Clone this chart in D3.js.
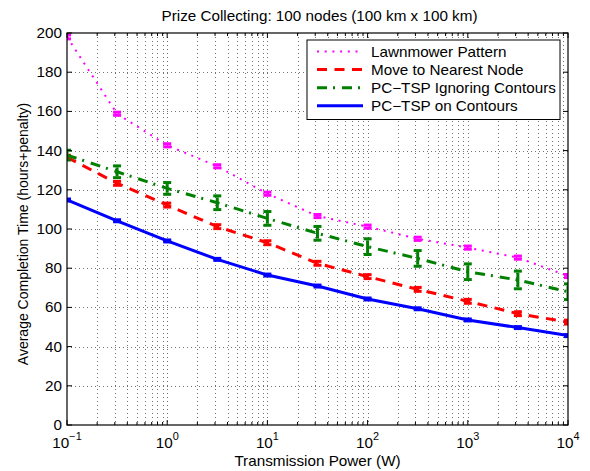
<!DOCTYPE html>
<html>
<head>
<meta charset="utf-8">
<script src="https://cdn.jsdelivr.net/npm/d3@7"></script>
<style>
  body { margin: 0; background: #fff; }
  text { font-family: "Liberation Sans", Arial, sans-serif; }
</style>
</head>
<body>
<div id="chart"></div>
<script>
// x positions: transmission power in W (half-decade steps)
const power = [0.1, 0.316, 1, 3.16, 10, 31.6, 100, 316, 1000, 3160, 10000];

// series values (hours+penalty) and error half-widths
const lawnmower     = [198, 158.8, 142.7, 132, 118, 106.6, 101.2, 95, 90.5, 85.4, 76];
const lawnmowerErr  = [1, 0.8, 0.8, 0.8, 0.8, 0.8, 0.8, 0.8, 0.8, 0.8, 0.8];
const nearest       = [136.6, 123.3, 112.2, 101.2, 93, 82.5, 75.7, 69.2, 63.1, 56.8, 52.5];
const nearestErr    = [1, 1, 1, 1, 1, 1, 1, 1, 1, 1, 1];
const ignoring      = [137.7, 129.2, 120.7, 113.4, 105.4, 97.8, 91, 85, 78.2, 74, 68];
const ignoringErr   = [2.5, 3, 3, 3.5, 3.5, 3.5, 4, 4, 4, 4.5, 4];
const contours      = [114.8, 104.2, 93.9, 84.5, 76.5, 70.9, 64.3, 59.3, 53.6, 49.7, 45.6];
const contoursErr   = [0.5, 0.5, 0.5, 0.5, 0.5, 0.5, 0.5, 0.5, 0.5, 0.5, 0.5];

const yTicks = [0, 20, 40, 60, 80, 100, 120, 140, 160, 180, 200];
const xTicks = [0.1, 1, 10, 100, 1000, 10000];
const xExp = ["\u22121", "0", "1", "2", "3", "4"];

const series = [
  {name: "Lawnmower Pattern", values: lawnmower, err: lawnmowerErr, color: "#ff00ff", dash: "2,5.7", width: 2},
  {name: "Move to Nearest Node", values: nearest, err: nearestErr, color: "#ff0000", dash: "10,7.5", width: 3},
  {name: "PC\u2212TSP Ignoring Contours", values: ignoring, err: ignoringErr, color: "#008000", dash: "10,6,2,7", width: 3},
  {name: "PC\u2212TSP on Contours", values: contours, err: contoursErr, color: "#0000ff", dash: null, width: 3}
];

const W = 590, H = 471;
const margin = {top: 33, right: 22, bottom: 46, left: 67},
width = W - margin.left - margin.right,
height = H - margin.top - margin.bottom;
const stretch = 1.09; // text in the picture is a bit wider than the font

const svg = d3.select("#chart")
.append("svg")
.attr("width", W)
.attr("height", H);

// text placed with a small horizontal stretch
function label(parent, tx, ty, str, size, anchor) {
  return parent.append("text")
  .attr("transform", `translate(${tx},${ty}) scale(${stretch},1)`)
  .attr("text-anchor", anchor || "start")
  .attr("font-size", size)
  .text(str);
}

const g = svg.append("g")
.attr("transform", `translate(${margin.left},${margin.top})`);

const x = d3.scaleLog()
.domain([0.1, 10000])
.range([0, width]);

const y = d3.scaleLinear()
.domain([0, 200])
.range([height, 0]);

// minor x ticks (2..9 per decade)
const minor = [];
for (let e = -1; e < 4; e++) {
  for (let k = 2; k <= 9; k++) minor.push(k * Math.pow(10, e));
}

// grid lines
const grid = g.append("g").attr("stroke", "#000").attr("stroke-width", 1)
.attr("stroke-dasharray", "1,3").attr("opacity", 0.55);
grid.selectAll(".xm").data(minor.concat(xTicks.slice(1, -1))).join("line")
.attr("x1", d => Math.round(x(d)) + 0.5).attr("x2", d => Math.round(x(d)) + 0.5)
.attr("y1", 0).attr("y2", height);
grid.selectAll(".yg").data(yTicks.slice(1, -1)).join("line")
.attr("y1", d => Math.round(y(d)) + 0.5).attr("y2", d => Math.round(y(d)) + 0.5)
.attr("x1", 0).attr("x2", width);

// clip for data
svg.append("clipPath").attr("id", "clip")
.append("rect").attr("width", width).attr("height", height);

const plot = g.append("g").attr("clip-path", "url(#clip)");

const line = d3.line()
.x((d, i) => x(power[i]))
.y(d => y(d));

series.forEach(s => {
  plot.append("path")
  .datum(s.values)
  .attr("fill", "none")
  .attr("stroke", s.color)
  .attr("stroke-width", s.width)
  .attr("stroke-dasharray", s.dash)
  .attr("d", line);

  // error bars
  const eb = plot.append("g").attr("stroke", s.color).attr("stroke-width", 3);
  s.values.forEach((v, i) => {
    const cx = x(power[i]);
    const y0 = y(v - s.err[i]), y1 = y(v + s.err[i]);
    eb.append("line").attr("x1", cx).attr("x2", cx).attr("y1", y0 - 1.5).attr("y2", y1 + 1.5);
    eb.append("line").attr("x1", cx - 4).attr("x2", cx + 4).attr("y1", y0).attr("y2", y0);
    eb.append("line").attr("x1", cx - 4).attr("x2", cx + 4).attr("y1", y1).attr("y2", y1);
  });
});

// axes box
g.append("rect")
.attr("x", 0).attr("y", 0)
.attr("width", width).attr("height", height)
.attr("fill", "none").attr("stroke", "#000").attr("stroke-width", 1.2);

// inside ticks on all sides
const ticks = g.append("g").attr("stroke", "#000").attr("stroke-width", 1);
xTicks.forEach(t => {
  const px = x(t);
  ticks.append("line").attr("x1", px).attr("x2", px).attr("y1", height).attr("y2", height - 5);
  ticks.append("line").attr("x1", px).attr("x2", px).attr("y1", 0).attr("y2", 5);
});
minor.forEach(t => {
  const px = x(t);
  ticks.append("line").attr("x1", px).attr("x2", px).attr("y1", height).attr("y2", height - 3);
  ticks.append("line").attr("x1", px).attr("x2", px).attr("y1", 0).attr("y2", 3);
});
yTicks.forEach(t => {
  const py = y(t);
  ticks.append("line").attr("x1", 0).attr("x2", 5).attr("y1", py).attr("y2", py);
  ticks.append("line").attr("x1", width).attr("x2", width - 5).attr("y1", py).attr("y2", py);
});

// y tick labels
yTicks.forEach(t => label(g, -5, y(t) + 5, t, 14, "end"));

// x tick labels with exponent
xTicks.forEach((t, i) => {
  const tx = label(g, x(t), height + 23, "", 14, "middle");
  tx.append("tspan").text("10");
  tx.append("tspan").attr("dy", -8).attr("font-size", 10).text(xExp[i]);
});

// axis labels and title
label(svg, margin.left + width / 2, H - 5, "Transmission Power (W)", 14, "middle");

svg.append("text")
.attr("transform", `translate(28,${margin.top + height / 2 + 5}) rotate(-90)`)
.attr("text-anchor", "middle").attr("font-size", 14)
.text("Average Completion Time (hours+penalty)");

label(svg, margin.left + width / 2 + 2, 21, "Prize Collecting: 100 nodes (100 km x 100 km)", 14, "middle");

// legend
const lg = svg.append("g").attr("transform", "translate(307,40)");
lg.append("rect")
.attr("width", 253).attr("height", 79.5)
.attr("fill", "#fff").attr("stroke", "#000").attr("stroke-width", 1);
series.forEach((s, i) => {
  const ly = 11.5 + i * 18.1;
  lg.append("line")
  .attr("x1", 10).attr("x2", 56).attr("y1", ly).attr("y2", ly)
  .attr("stroke", s.color).attr("stroke-width", s.width)
  .attr("stroke-dasharray", s.dash);
  label(lg, 64, ly + 5, s.name, 14);
});
</script>
</body>
</html>
